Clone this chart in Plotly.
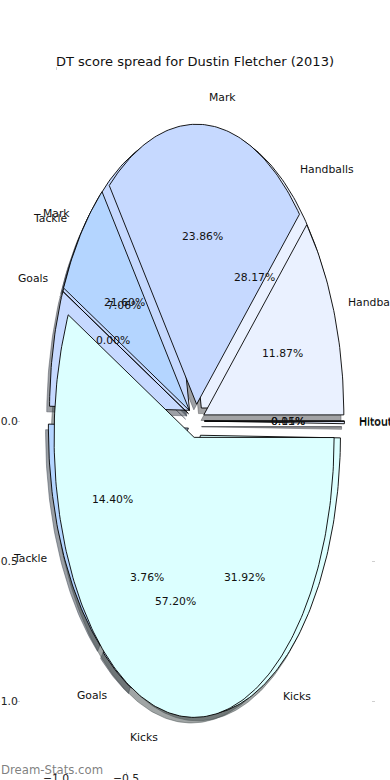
import numpy as np
import plotly.graph_objects as go

# ---- data ----
categories = ["Handballs", "Mark", "Tackle", "Goals", "Kicks", "Hitout"]
share_under = [28.17, 21.60, 14.40, 3.76, 31.92, 0.15]   # pie drawn first (mostly hidden)
share_top = [11.87, 23.86, 7.06, 0.00, 57.20, 0.01]      # pie drawn on top
slice_colors = ["#eaf1ff", "#c6d9ff", "#b4d5ff", "#c6d9ff", "#dcffff", "#e4ecff"]
x_ticks = [-1.0, -0.5]
y_ticks = [0.0, -0.5, -1.0]
title_text = "DT score spread for Dustin Fletcher (2013)"
watermark = "Dream-Stats.com"

# ---- pie styling (matplotlib-like) ----
EXPLODE = 0.06
LABEL_DIST = 1.1
PCT_DIST = 0.6
SHADOW_OFF = (-0.02, -0.02)
FONT = "DejaVu Sans"
FS = 10.8
W, H = 390, 780
ML, MR, MT, MB = 21, 19, 71, 9


def hex_rgb(h):
    h = h.lstrip("#")
    return tuple(int(h[i:i + 2], 16) for i in (0, 2, 4))


def wedges(values):
    total = float(sum(values))
    out = []
    t1 = 0.0
    for v in values:
        frac = v / total
        t2 = t1 + frac
        tm = np.pi * (t1 + t2)
        cx = EXPLODE * np.cos(tm)
        cy = EXPLODE * np.sin(tm)
        n = max(2, int(360 * frac) + 2)
        th = np.linspace(2 * np.pi * t1, 2 * np.pi * t2, n)
        xs = np.concatenate([[cx], cx + np.cos(th), [cx]])
        ys = np.concatenate([[cy], cy + np.sin(th), [cy]])
        out.append(dict(xs=xs, ys=ys, cx=cx, cy=cy, tm=tm, pct=100 * frac))
        t1 = t2
    return out


pies = [wedges(share_under), wedges(share_top)]

fig = go.Figure()

# shadows (below all wedges)
for pie in pies:
    for w, col in zip(pie, slice_colors):
        r, g, b = hex_rgb(col)
        sc = f"rgba({int(0.3 * r)},{int(0.3 * g)},{int(0.3 * b)},0.5)"
        fig.add_trace(go.Scatter(
            x=w["xs"] + SHADOW_OFF[0], y=w["ys"] + SHADOW_OFF[1],
            mode="lines", fill="toself", fillcolor=sc,
            line=dict(color=sc, width=0.9), hoverinfo="skip", showlegend=False))

# wedges
for pie in pies:
    for w, col, cat in zip(pie, slice_colors, categories):
        fig.add_trace(go.Scatter(
            x=w["xs"], y=w["ys"], mode="lines", fill="toself", fillcolor=col,
            line=dict(color="black", width=0.9), name=cat,
            hoverinfo="skip", showlegend=False))

# labels and percentages
annotations = []
for pie in pies:
    for w, cat in zip(pie, categories):
        xt = w["cx"] + LABEL_DIST * np.cos(w["tm"])
        yt = w["cy"] + LABEL_DIST * np.sin(w["tm"])
        annotations.append(dict(
            x=xt, y=yt, xref="x", yref="y", text=cat, showarrow=False,
            xanchor="left" if xt > 0 else "right", yanchor="middle",
            font=dict(family=FONT, size=FS, color="#111"), borderpad=0))
        xp = w["cx"] + PCT_DIST * np.cos(w["tm"])
        yp = w["cy"] + PCT_DIST * np.sin(w["tm"])
        annotations.append(dict(
            x=xp, y=yp, xref="x", yref="y", text=f"{w['pct']:.2f}%",
            showarrow=False, xanchor="center", yanchor="middle",
            font=dict(family=FONT, size=FS, color="#111"), borderpad=0))

pw = W - ML - MR
ph = H - MT - MB
annotations.append(dict(
    x=-ML / pw, y=(H - 770 - MB) / ph, xref="paper", yref="paper",
    text=watermark, showarrow=False, xanchor="left", yanchor="middle",
    font=dict(family=FONT, size=11.7, color="rgba(120,120,120,0.95)"),
    borderpad=0))

axis_common = dict(
    range=[-1.25, 1.25], showgrid=False, zeroline=False, showline=False,
    ticks="outside", ticklen=3, tickwidth=1, tickcolor="#cfcfcf",
    mirror="ticks", tickformat=".1f", automargin=False, fixedrange=True,
    tickfont=dict(family=FONT, size=FS, color="#222"))

fig.update_layout(
    width=W, height=H,
    margin=dict(l=ML, r=MR, t=MT, b=MB),
    paper_bgcolor="white", plot_bgcolor="white",
    title=dict(text=title_text, x=0.5, xanchor="center",
               y=1 - 61 / H, yanchor="middle",
               font=dict(family=FONT, size=13, color="#111")),
    xaxis=dict(tickvals=x_ticks, ticklabelstandoff=-6, **axis_common),
    yaxis=dict(tickvals=y_ticks, ticklabelstandoff=-3, **axis_common),
    annotations=annotations,
    showlegend=False,
)

fig.write_html(
    "out.html",
    config={"displayModeBar": False},
    post_script="document.body.style.margin='0';document.body.style.padding='0';",
)
